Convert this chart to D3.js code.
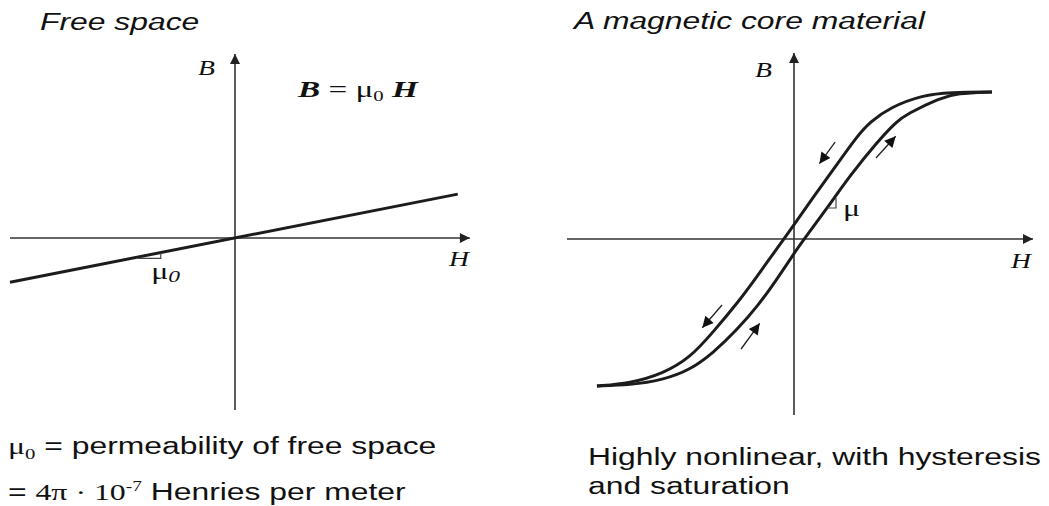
<!DOCTYPE html>
<html>
<head>
<meta charset="utf-8">
<script src="https://cdn.jsdelivr.net/npm/d3@7"></script>
<style>
  body { margin: 0; background: #fff; }
  svg { display: block; }
  .axis-line { stroke: #333; stroke-width: 1.6; fill: none; }
  .curve { stroke: #1c1c1c; stroke-width: 3; fill: none; }
  .corner { stroke: #444; stroke-width: 1.2; fill: none; }
  .flow { stroke: #222; stroke-width: 1.3; fill: none; }
  text { fill: #111; }
  .sans { font-family: "Liberation Sans", Arial, sans-serif; }
  .serif { font-family: "Liberation Serif", "Times New Roman", serif; }
</style>
</head>
<body>
<svg id="chart"></svg>
<script>
// H and B in axis units, origin where the axes cross
const freeSpaceLine = [[-1.0, -0.257], [0.99, 0.255]];
const mu0Corner = [[-0.431, -0.118], [-0.330, -0.118], [-0.330, -0.087]];

// descending branch (left side of the loop)
const upperBranch = [
    [-0.868, -0.835], [-0.722, -0.820], [-0.577, -0.765], [-0.458, -0.675],
    [-0.357, -0.530], [-0.238, -0.345], [-0.176, -0.236], [-0.045, 0],
    [0, 0.080], [0.084, 0.236], [0.172, 0.392], [0.278, 0.585],
    [0.335, 0.665], [0.423, 0.748], [0.568, 0.818], [0.687, 0.833],
    [0.872, 0.835]
];
// ascending branch (right side of the loop)
const lowerBranch = [
    [-0.868, -0.835], [-0.722, -0.830], [-0.577, -0.801], [-0.458, -0.744],
    [-0.357, -0.648], [-0.251, -0.517], [-0.150, -0.364], [-0.084, -0.245],
    [0, -0.082], [0.045, 0], [0.185, 0.245], [0.238, 0.345],
    [0.366, 0.551], [0.454, 0.670], [0.498, 0.710], [0.643, 0.801],
    [0.718, 0.828], [0.872, 0.835]
];
// [fromH, fromB, toH, toB]
const flowArrows = [
    [0.181, 0.551, 0.112, 0.428],
    [0.361, 0.460, 0.448, 0.584],
    [-0.317, -0.375, -0.404, -0.504],
    [-0.233, -0.625, -0.151, -0.479]
];
const muCorner = [[0.145, 0.176], [0.185, 0.176], [0.185, 0.233]];

const leftHExtent = [-1, 1.044];
const leftBExtent = [-1, 1.07];
const rightHExtent = [-1, 1.053];
const rightBExtent = [-1, 1.057];

const titles = ['Free space', 'A magnetic core material'];

const width = 1049, height = 506;
const SX = 1.385; // the source text is stretched sideways

const svg = d3.select('#chart')
    .attr('width', width)
    .attr('height', height);

svg.append('rect').attr('width', width).attr('height', height).attr('fill', '#fff');

const defs = svg.append('defs');
defs.append('marker')
    .attr('id', 'axis-head')
    .attr('viewBox', '0 0 10 10')
    .attr('refX', 10).attr('refY', 5)
    .attr('markerUnits', 'userSpaceOnUse')
    .attr('markerWidth', 12).attr('markerHeight', 10)
    .attr('orient', 'auto')
    .append('path').attr('d', 'M0,0L10,5L0,10Z').attr('fill', '#222');
defs.append('marker')
    .attr('id', 'flow-head')
    .attr('viewBox', '0 0 10 10')
    .attr('refX', 10).attr('refY', 5)
    .attr('markerUnits', 'userSpaceOnUse')
    .attr('markerWidth', 13).attr('markerHeight', 11)
    .attr('orient', 'auto')
    .append('path').attr('d', 'M0,0L10,5L0,10Z').attr('fill', '#111');

// text helper: parts are [string, className, extra attrs]
function label(g, x, y, size, parts) {
    const t = g.append('text')
        .attr('transform', `translate(${x},${y}) scale(${SX},1)`)
        .attr('font-size', size);
    parts.forEach(p => {
        const s = t.append('tspan').attr('class', p[1]).text(p[0]);
        if (p[2]) Object.entries(p[2]).forEach(([k, v]) => s.attr(k, v));
    });
    return t;
}

function drawAxes(g, x, y, hExt, bExt) {
    g.append('line').attr('class', 'axis-line')
        .attr('x1', x(hExt[0])).attr('x2', x(hExt[1]))
        .attr('y1', y(0)).attr('y2', y(0))
        .attr('marker-end', 'url(#axis-head)');
    g.append('line').attr('class', 'axis-line')
        .attr('x1', x(0)).attr('x2', x(0))
        .attr('y1', y(bExt[0])).attr('y2', y(bExt[1]))
        .attr('marker-end', 'url(#axis-head)');
}

// ---- left: free space ----
const xL = d3.scaleLinear().domain([-1, 1]).range([10, 460]);
const yL = d3.scaleLinear().domain([-1, 1]).range([410, 66]);
const left = svg.append('g');

drawAxes(left, xL, yL, leftHExtent, leftBExtent);

const lineL = d3.line().x(d => xL(d[0])).y(d => yL(d[1]));
left.append('path').attr('class', 'curve').attr('d', lineL(freeSpaceLine));
left.append('path').attr('class', 'corner').attr('d', lineL(mu0Corner));

label(left, 198, 75, 20, [['B', 'serif', { 'font-style': 'italic' }]]);
label(left, 449, 266, 20, [['H', 'serif', { 'font-style': 'italic' }]]);
label(left, xL(-0.372), yL(-0.238), 23, [
    ['μ', 'serif'],
    ['0', 'serif', { 'font-style': 'italic', 'font-size': 17, dy: 3 }]
]);
label(left, 298, 97, 24, [
    ['B', 'serif', { 'font-weight': 'bold', 'font-style': 'italic' }],
    [' = μ', 'serif'],
    ['0', 'serif', { 'font-size': 15, dy: 4 }],
    [' ', 'serif', { dy: -4 }],
    ['H', 'serif', { 'font-weight': 'bold', 'font-style': 'italic' }]
]);

label(left, 40, 30, 23, [[titles[0], 'sans', { 'font-style': 'italic' }]]);

label(left, 8, 454, 23, [
    ['μ', 'serif'],
    ['0', 'serif', { 'font-size': 15, dy: 5 }],
    [' = permeability of free space', 'sans', { dy: -5 }]
]);
label(left, 8, 500, 23, [
    ['= ', 'sans'],
    ['4π · 10', 'serif'],
    ['-7', 'serif', { 'font-size': 14, dy: -9 }],
    [' Henries per meter', 'sans', { dy: 9 }]
]);

// ---- right: magnetic core ----
const xR = d3.scaleLinear().domain([-1, 1]).range([567, 1021]);
const yR = d3.scaleLinear().domain([-1, 1]).range([415, 63]);
const right = svg.append('g');

drawAxes(right, xR, yR, rightHExtent, rightBExtent);

const loop = d3.line().x(d => xR(d[0])).y(d => yR(d[1])).curve(d3.curveBasis);
right.append('path').attr('class', 'curve').attr('d', loop(upperBranch));
right.append('path').attr('class', 'curve').attr('d', loop(lowerBranch));

right.append('path').attr('class', 'corner')
    .attr('d', d3.line().x(d => xR(d[0])).y(d => yR(d[1]))(muCorner));

right.selectAll('.flow')
    .data(flowArrows)
    .join('line')
    .attr('class', 'flow')
    .attr('x1', d => xR(d[0])).attr('y1', d => yR(d[1]))
    .attr('x2', d => xR(d[2])).attr('y2', d => yR(d[3]))
    .attr('marker-end', 'url(#flow-head)');

label(right, xR(0.216), yR(0.131), 23, [['μ', 'serif']]);
label(right, 755, 77, 20, [['B', 'serif', { 'font-style': 'italic' }]]);
label(right, 1011, 268, 20, [['H', 'serif', { 'font-style': 'italic' }]]);

label(right, 574, 29, 23, [[titles[1], 'sans', { 'font-style': 'italic' }]]);
label(right, 588, 465, 23, [['Highly nonlinear, with hysteresis', 'sans']]);
label(right, 588, 494, 23, [['and saturation', 'sans']]);
</script>
</body>
</html>
